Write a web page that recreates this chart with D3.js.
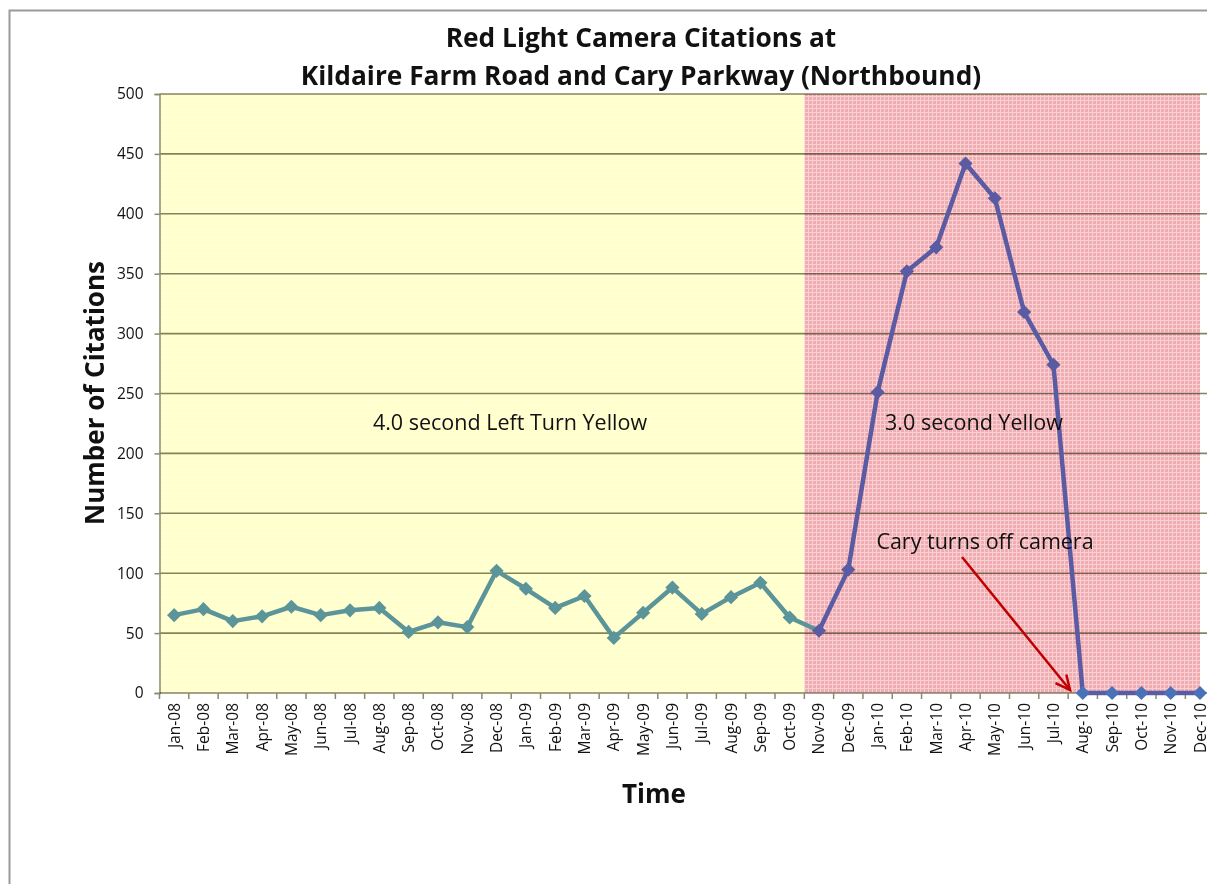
<!DOCTYPE html>
<html><head><meta charset="utf-8">
<script src="https://cdn.jsdelivr.net/npm/d3@7"></script>
<style>html,body{margin:0;padding:0;background:#fff;}svg{display:block;}</style>
</head><body>
<script>
const months = ["Jan-08","Feb-08","Mar-08","Apr-08","May-08","Jun-08","Jul-08","Aug-08","Sep-08","Oct-08","Nov-08","Dec-08",
"Jan-09","Feb-09","Mar-09","Apr-09","May-09","Jun-09","Jul-09","Aug-09","Sep-09","Oct-09","Nov-09","Dec-09",
"Jan-10","Feb-10","Mar-10","Apr-10","May-10","Jun-10","Jul-10","Aug-10","Sep-10","Oct-10","Nov-10","Dec-10"];
const yellowPeriod = ["Jan-08","Feb-08","Mar-08","Apr-08","May-08","Jun-08","Jul-08","Aug-08","Sep-08","Oct-08","Nov-08","Dec-08",
"Jan-09","Feb-09","Mar-09","Apr-09","May-09","Jun-09","Jul-09","Aug-09","Sep-09","Oct-09"];
const yellowCitations = [65,70,60,64,72,65,69,71,51,59,55,102,87,71,81,46,67,88,66,80,92,63];
const redPeriod = ["Nov-09","Dec-09","Jan-10","Feb-10","Mar-10","Apr-10","May-10","Jun-10","Jul-10"];
const redCitations = [52,103,251,352,372,442,413,318,274];
const offPeriod = ["Aug-10","Sep-10","Oct-10","Nov-10","Dec-10"];
const offCitations = [0,0,0,0,0];
const yTicks = [0,50,100,150,200,250,300,350,400,450,500];
const titleLines = ["Red Light Camera Citations at","Kildaire Farm Road and Cary Parkway (Northbound)"];

const W = 1207, H = 884;
const svg = d3.select("body").append("svg").attr("width", W).attr("height", H);
const FONT = "'Open Sans', 'Noto Sans', sans-serif";

const pL = 159.5, pT = 94, pB = 693;
const step = 29.31;
const x = d3.scaleBand().domain(months).range([pL, pL + step * months.length]).padding(0);
const cx = m => x(m) + x.bandwidth() / 2;
const y = d3.scaleLinear().domain([0, 500]).range([pB, pT]);

// outer frame
svg.append("path").attr("d", `M9.5,${H+5} L9.5,10.5 L${W+5},10.5`).attr("fill","none").attr("stroke","#9a9a9a").attr("stroke-width",2);

const defs = svg.append("defs");
const py = defs.append("pattern").attr("id","pY").attr("width",4).attr("height",4).attr("patternUnits","userSpaceOnUse");
py.append("rect").attr("width",4).attr("height",4).attr("fill","#FFFFC6");
py.append("rect").attr("width",4).attr("height",1).attr("fill","#FFFFDC");
py.append("rect").attr("width",1).attr("height",4).attr("fill","#FFFFDC");
const pr = defs.append("pattern").attr("id","pR").attr("width",4).attr("height",4).attr("patternUnits","userSpaceOnUse");
pr.append("rect").attr("width",4).attr("height",4).attr("fill","#F0ACB1");
pr.append("rect").attr("width",4).attr("height",1).attr("fill","#F8CFD2");
pr.append("rect").attr("width",1).attr("height",4).attr("fill","#F8CFD2");

const redStart = x("Nov-09");
svg.append("rect").attr("x", pL).attr("y", pT).attr("width", redStart - pL).attr("height", pB - pT).attr("fill","url(#pY)");
svg.append("rect").attr("x", redStart).attr("y", pT).attr("width", cx("Dec-10") - redStart).attr("height", pB - pT).attr("fill","url(#pR)");

// gridlines
svg.append("g").selectAll("line").data(yTicks.filter(d => d > 0)).join("line")
  .attr("x1", pL).attr("x2", W).attr("y1", d => y(d)).attr("y2", d => y(d))
  .attr("stroke","#84846a").attr("stroke-width",1.6).style("mix-blend-mode","multiply");

// y axis
const yAxis = svg.append("g").attr("transform", `translate(${pL},0)`)
  .call(d3.axisLeft(y).tickValues(yTicks).tickSize(5).tickPadding(11));
yAxis.select(".domain").attr("stroke","#8a8a70").attr("stroke-width",1.5);
yAxis.selectAll(".tick line").attr("stroke","#8a8a70").attr("stroke-width",1.5);
yAxis.selectAll("text").attr("font-family", FONT).attr("font-size", 15.5).attr("fill","#111");

// x axis
const xAxis = svg.append("g").attr("transform", `translate(0,${pB})`)
  .call(d3.axisBottom(x).tickSize(0).tickPadding(0));
xAxis.select(".domain").remove();
svg.append("line").attr("x1", pL).attr("x2", W).attr("y1", pB).attr("y2", pB)
  .attr("stroke","#84846a").attr("stroke-width",1.6).style("mix-blend-mode","multiply");
svg.append("g").selectAll("line").data(months).join("line")
  .attr("x1", d => x(d)).attr("x2", d => x(d)).attr("y1", pB).attr("y2", pB + 6)
  .attr("stroke","#8a8a70").attr("stroke-width",1.5);
xAxis.selectAll(".tick text")
  .attr("font-family", FONT).attr("font-size", 15.5).attr("fill","#111")
  .attr("text-anchor","end").attr("dy", null).attr("y", 0)
  .attr("transform","translate(5.5,10) rotate(-90)");

// series
const line = d3.line().x(d => cx(d[0])).y(d => y(d[1]));
const teal = "#5B9599", purple = "#5A5BA3", blue = "#4A72B8";
const yData = d3.zip(yellowPeriod, yellowCitations);
const rData = d3.zip(redPeriod, redCitations);
const oData = d3.zip(offPeriod, offCitations);
svg.append("path").datum(yData.concat([rData[0]])).attr("d", line).attr("fill","none").attr("stroke",teal).attr("stroke-width",4.5).attr("stroke-linejoin","round");
svg.append("path").datum(rData.concat(oData)).attr("d", line).attr("fill","none").attr("stroke",purple).attr("stroke-width",4.5).attr("stroke-linejoin","round");

const diamond = d3.symbol().type(d3.symbolSquare).size(100);
function markers(data, color){
  svg.append("g").selectAll("path").data(data).join("path")
    .attr("d", diamond).attr("transform", d => `translate(${cx(d[0])},${y(d[1])}) rotate(45)`).attr("fill", color);
}
markers(yData, teal);
markers(rData, purple);
markers(oData, blue);

// titles
svg.append("g").selectAll("text").data(titleLines).join("text")
  .attr("x", 641).attr("y", (d,i) => 47 + i*38).attr("text-anchor","middle")
  .attr("font-family", FONT).attr("font-weight","bold").attr("font-size", 26.3).attr("fill","#111").text(d => d);
svg.append("text").attr("transform","translate(104,393) rotate(-90)").attr("text-anchor","middle")
  .attr("font-family", FONT).attr("font-weight","bold").attr("font-size", 26).attr("fill","#111").text("Number of Citations");
svg.append("text").attr("x", 654).attr("y", 803).attr("text-anchor","middle")
  .attr("font-family", FONT).attr("font-weight","bold").attr("font-size", 26).attr("fill","#111").text("Time");

// annotations
svg.append("text").attr("x", 510).attr("y", 430).attr("text-anchor","middle")
  .attr("font-family", FONT).attr("font-size", 21.5).attr("fill","#111").text("4.0 second Left Turn Yellow");
svg.append("text").attr("x", 974).attr("y", 430).attr("text-anchor","middle")
  .attr("font-family", FONT).attr("font-size", 21.5).attr("fill","#111").text("3.0 second Yellow");
svg.append("text").attr("x", 985).attr("y", 549).attr("text-anchor","middle")
  .attr("font-family", FONT).attr("font-size", 21.5).attr("fill","#111").text("Cary turns off camera");

// arrow
const ax1 = 962, ay1 = 557, ax2 = 1070, ay2 = 690;
svg.append("line").attr("x1", ax1).attr("y1", ay1).attr("x2", ax2).attr("y2", ay2).attr("stroke","#C00000").attr("stroke-width",2.5);
const ang = Math.atan2(ay2 - ay1, ax2 - ax1);
const hl = 16, ha = 0.45;
svg.append("path").attr("d",
  `M${ax2 - hl*Math.cos(ang - ha)},${ay2 - hl*Math.sin(ang - ha)} L${ax2},${ay2} L${ax2 - hl*Math.cos(ang + ha)},${ay2 - hl*Math.sin(ang + ha)}`)
  .attr("fill","none").attr("stroke","#C00000").attr("stroke-width",2.5);
</script>
</body></html>
